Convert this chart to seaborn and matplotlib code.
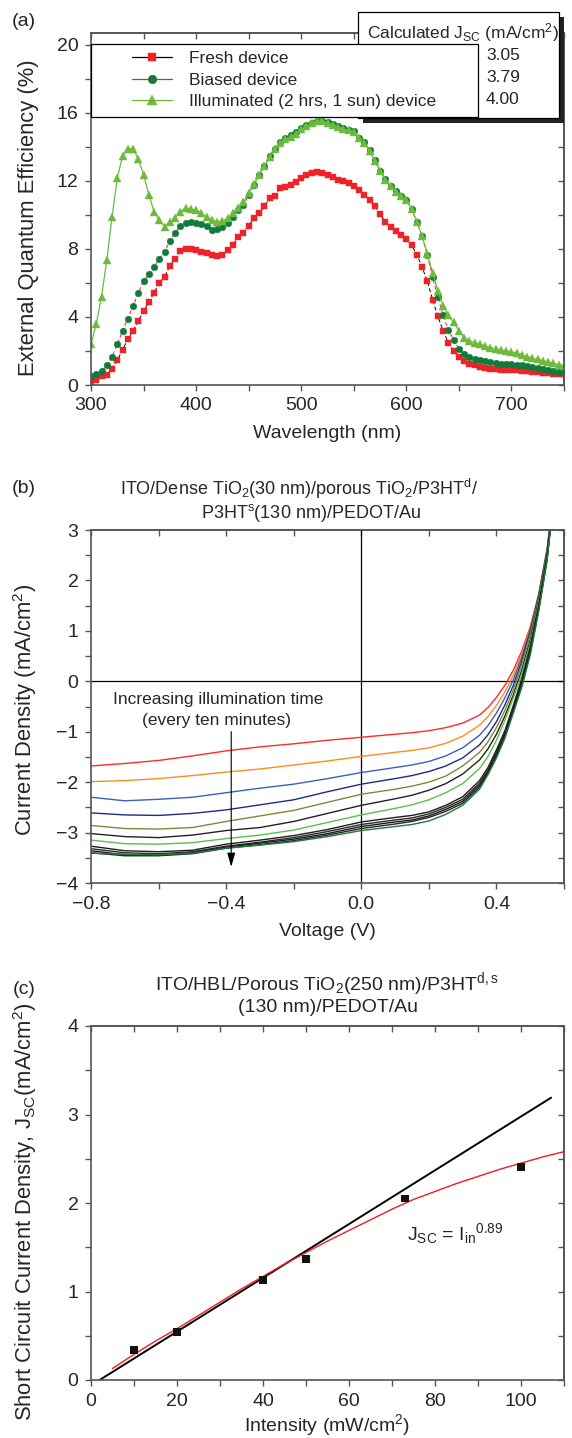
import matplotlib
matplotlib.use("Agg")
import pandas as pd
import matplotlib.pyplot as plt
import seaborn as sns
from matplotlib.patches import Rectangle
from matplotlib.ticker import MultipleLocator, FuncFormatter

W, H = 572, 1438

# ---------------- (a) EQE spectra ----------------
wavelength = list(range(300, 751, 5))
eqe_fresh = [0.16, 0.32, 0.51, 0.61, 0.95, 1.46, 2.06, 2.69, 3.18, 3.75, 4.33, 4.86, 5.42, 6.0, 6.38,
             7.0, 7.43, 7.87, 7.98, 8.02, 7.92, 7.83, 7.77, 7.63, 7.59, 7.67, 7.92, 8.22, 8.72, 8.95,
             9.37, 9.8, 10.1, 10.5, 11.0, 11.13, 11.58, 11.64, 11.74, 11.94, 12.17, 12.37, 12.47, 12.51, 12.47,
             12.37, 12.21, 12.07, 11.98, 11.88, 11.68, 11.48, 11.15, 10.89, 10.5, 10.04, 9.6, 9.3, 9.05, 8.85,
             8.58, 8.22, 7.67, 6.94, 6.09, 5.02, 4.03, 3.18, 2.49, 2.0, 1.66, 1.4, 1.26, 1.15, 1.07,
             1.0, 0.97, 0.95, 0.9, 0.9, 0.89, 0.87, 0.85, 0.81, 0.77, 0.75, 0.71, 0.69, 0.67, 0.65, 0.63]
eqe_biased = [0.51, 0.65, 0.81, 1.15, 1.66, 2.39, 3.18, 3.91, 4.66, 5.42, 6.09, 6.54, 6.94, 7.43, 7.83,
              8.46, 8.95, 9.37, 9.55, 9.6, 9.55, 9.45, 9.37, 9.11, 9.15, 9.31, 9.5, 9.9, 10.3, 10.6,
              11.15, 11.75, 12.35, 12.9, 13.45, 13.9, 14.3, 14.5, 14.68, 14.85, 15.1, 15.3, 15.42, 15.55, 15.55,
              15.45, 15.35, 15.22, 15.1, 15.0, 14.92, 14.55, 14.3, 13.8, 13.25, 12.6, 12.1, 11.7, 11.38, 11.12,
              10.9, 10.36, 9.6, 8.75, 7.63, 6.34, 5.16, 4.1, 3.24, 2.65, 2.13, 1.8, 1.66, 1.54, 1.46,
              1.4, 1.34, 1.3, 1.26, 1.26, 1.25, 1.2, 1.17, 1.1, 1.07, 1.0, 0.95, 0.9, 0.85, 0.79, 0.75]
eqe_illum = [2.39, 3.58, 5.2, 7.33, 9.88, 12.17, 13.46, 13.9, 13.9, 13.3, 12.37, 11.2, 10.2, 9.7, 9.3,
             9.56, 9.84, 10.2, 10.4, 10.34, 10.3, 10.1, 9.9, 9.7, 9.6, 9.64, 9.8, 10.1, 10.4, 10.75,
             11.3, 11.8, 12.37, 12.87, 13.4, 13.85, 14.25, 14.45, 14.6, 14.78, 15.04, 15.24, 15.38, 15.53, 15.53,
             15.43, 15.3, 15.18, 15.04, 14.98, 14.9, 14.5, 14.25, 13.75, 13.2, 12.57, 12.07, 11.68, 11.34, 11.09,
             10.9, 10.36, 9.6, 8.75, 7.73, 6.58, 5.55, 4.66, 4.1, 3.68, 3.18, 2.79, 2.59, 2.49, 2.39,
             2.29, 2.2, 2.12, 2.05, 2.0, 1.95, 1.88, 1.76, 1.66, 1.56, 1.5, 1.42, 1.36, 1.27, 1.2, 1.14]
eqe_labels = ["Fresh device", "Biased device", "Illuminated (2 hrs, 1 sun) device"]
jsc_values = ["3.05", "3.79", "4.00"]

# ---------------- (b) J-V curves ----------------
voltage = [-0.8, -0.7, -0.6, -0.5, -0.4, -0.3, -0.2, -0.1, 0.0, 0.1, 0.15, 0.2, 0.25, 0.3, 0.35,
           0.375, 0.4, 0.425, 0.45, 0.475, 0.5, 0.525, 0.55, 0.575]
jv_red = [-1.68, -1.63, -1.57, -1.48, -1.38, -1.30, -1.24, -1.17, -1.11, -1.05, -1.02, -0.98, -0.92, -0.83,
          -0.67, -0.52, -0.32, -0.08, 0.22, 0.60, 1.08, 1.70, 2.55, 3.9]
jv_orange = [-1.99, -1.97, -1.93, -1.87, -1.80, -1.74, -1.66, -1.58, -1.49, -1.41, -1.37, -1.32, -1.23, -1.09,
             -0.87, -0.70, -0.48, -0.21, 0.12, 0.53, 1.06, 1.73, 2.63, 4.0]
jv_blue = [-2.30, -2.37, -2.34, -2.30, -2.21, -2.12, -2.04, -1.93, -1.81, -1.71, -1.66, -1.59, -1.48, -1.32,
           -1.07, -0.88, -0.63, -0.33, 0.03, 0.47, 1.02, 1.72, 2.62, 4.0]
jv_navy = [-2.61, -2.65, -2.66, -2.62, -2.55, -2.45, -2.35, -2.19, -2.04, -1.93, -1.87, -1.79, -1.68, -1.52,
           -1.26, -1.06, -0.80, -0.47, -0.08, 0.40, 0.98, 1.69, 2.58, 4.0]
jv_olive = [-2.86, -2.92, -2.93, -2.90, -2.78, -2.67, -2.56, -2.40, -2.24, -2.14, -2.08, -2.00, -1.88, -1.68,
            -1.41, -1.20, -0.92, -0.58, -0.17, 0.33, 0.93, 1.66, 2.56, 4.0]
jv_black1 = [-3.02, -3.08, -3.10, -3.05, -2.96, -2.90, -2.78, -2.62, -2.46, -2.33, -2.26, -2.16, -2.03, -1.84,
             -1.56, -1.34, -1.05, -0.69, -0.27, 0.22, 0.82, 1.60, 2.52, 4.0]
jv_lgreen = [-3.15, -3.22, -3.23, -3.20, -3.12, -3.05, -2.95, -2.80, -2.65, -2.52, -2.45, -2.35, -2.21, -2.03,
             -1.73, -1.49, -1.17, -0.77, -0.33, 0.15, 0.75, 1.55, 2.50, 4.0]
jv_black2 = [-3.27, -3.36, -3.38, -3.35, -3.23, -3.15, -3.06, -2.94, -2.79, -2.70, -2.66, -2.59, -2.46, -2.29,
             -1.97, -1.71, -1.36, -0.98, -0.48, 0.05, 0.68, 1.50, 2.48, 4.0]
jv_black3 = [-3.32, -3.40, -3.42, -3.38, -3.27, -3.19, -3.10, -2.98, -2.84, -2.75, -2.71, -2.63, -2.50, -2.34,
             -2.02, -1.76, -1.41, -1.02, -0.52, 0.0, 0.64, 1.47, 2.46, 4.0]
jv_black4 = [-3.36, -3.44, -3.45, -3.40, -3.29, -3.21, -3.13, -3.02, -2.88, -2.79, -2.75, -2.67, -2.54, -2.38,
             -2.06, -1.80, -1.45, -1.06, -0.56, -0.05, 0.60, 1.44, 2.44, 4.0]
jv_black5 = [-3.40, -3.46, -3.46, -3.42, -3.31, -3.24, -3.16, -3.05, -2.92, -2.83, -2.78, -2.70, -2.58, -2.42,
             -2.10, -1.83, -1.49, -1.10, -0.60, -0.09, 0.56, 1.41, 2.42, 4.0]
jv_dgreen = [-3.41, -3.43, -3.44, -3.41, -3.31, -3.25, -3.18, -3.08, -2.96, -2.88, -2.84, -2.77, -2.64, -2.46,
             -2.14, -1.85, -1.52, -1.13, -0.63, -0.12, 0.52, 1.38, 2.40, 4.0]
jv_colors = ["#ff2a2a", "#ff8c1a", "#3b5fc0", "#1f2a80", "#85853a", "#222222", "#5cc04a",
             "#1e1e1e", "#2a2a2a", "#1a1a1a", "#262626", "#1b7a3a"]

# ---------------- (c) Jsc vs intensity ----------------
intensity = [10, 20, 40, 50, 73, 100]
jsc_meas = [0.34, 0.54, 1.13, 1.37, 2.05, 2.41]
lin_x = [2, 107]
lin_y = [0.0, 3.19]
pow_x = [5, 10, 15, 20, 25, 30, 35, 40, 45, 50, 55, 60, 65, 70, 75, 80, 85, 90, 95, 100, 105, 110]
pow_y = [0.13, 0.29, 0.44, 0.58, 0.73, 0.88, 1.03, 1.17, 1.31, 1.44, 1.57, 1.69, 1.81, 1.93, 2.04,
         2.13, 2.22, 2.30, 2.38, 2.45, 2.52, 2.58]

SPINE = "#555555"
FS = 14
FS_Y = 15.8

sns.set_theme(style="ticks")
plt.rcParams["font.family"] = ["Liberation Sans", "DejaVu Sans"]
plt.rcParams["mathtext.fontset"] = "custom"
plt.rcParams["mathtext.rm"] = "Liberation Sans"
plt.rcParams["mathtext.it"] = "Liberation Sans:italic"
plt.rcParams["mathtext.bf"] = "Liberation Sans:bold"


def fx(px):
    return px / W


def fy(py):
    return 1 - py / H


def style_axes(ax, xmaj, xmin, ymaj, ymin):
    ax.xaxis.set_major_locator(MultipleLocator(xmaj))
    ax.xaxis.set_minor_locator(MultipleLocator(xmin))
    ax.yaxis.set_major_locator(MultipleLocator(ymaj))
    ax.yaxis.set_minor_locator(MultipleLocator(ymin))
    ax.tick_params(which="both", direction="out", color=SPINE, width=1.0, length=4.5,
                   labelsize=FS, pad=4.5, top=False, right=False)
    for s in ax.spines.values():
        s.set_visible(True)
        s.set_color(SPINE)
        s.set_linewidth(1.2)
    top = ax.secondary_xaxis("top")
    top.xaxis.set_major_locator(MultipleLocator(xmaj))
    top.xaxis.set_minor_locator(MultipleLocator(xmin))
    top.tick_params(which="both", direction="in", length=4.5, color=SPINE, width=1.0, labeltop=False)
    right = ax.secondary_yaxis("right")
    right.yaxis.set_major_locator(MultipleLocator(ymaj))
    right.yaxis.set_minor_locator(MultipleLocator(ymin))
    right.tick_params(which="both", direction="in", length=4.5, color=SPINE, width=1.0, labelright=False)
    for sec in (top, right):
        for s in sec.spines.values():
            s.set_color(SPINE)
            s.set_linewidth(1.2)


def place_axes(top_px, bottom_px):
    return fig.add_axes([fx(91), fy(bottom_px), fx(564) - fx(91), (bottom_px - top_px) / H])


fig = plt.figure(figsize=(W / 100, H / 100), dpi=100)

# ======================= (a) =======================
axa = place_axes(33, 385)
sns.lineplot(x=wavelength, y=eqe_fresh, ax=axa, color="black", linestyle=(0, (4, 2.5)), linewidth=0.7,
             marker="s", markersize=4.4, markerfacecolor="#ee2229", markeredgecolor="#ee2229",
             markeredgewidth=0.3, label=eqe_labels[0])
sns.lineplot(x=wavelength, y=eqe_biased, ax=axa, color="#ee2229", linestyle=(0, (4, 2.5)), linewidth=0.7,
             marker="o", markersize=4.8, markerfacecolor="#0f7c3c", markeredgecolor="#0f7c3c",
             markeredgewidth=0.3, label=eqe_labels[1])
sns.lineplot(x=wavelength, y=eqe_illum, ax=axa, color="#6cbb3c", linewidth=0.9,
             marker="^", markersize=5.6, markerfacecolor="#6cbb3c", markeredgecolor="#6cbb3c",
             markeredgewidth=0.3, label=eqe_labels[2])
axa.set_xlim(300, 750)
axa.set_ylim(0, 20.7)
style_axes(axa, 100, 50, 4, 2)
axa.set_xlabel("Wavelength (nm)", fontsize=FS)
axa.set_ylabel("External Quantum Efficiency (%)", fontsize=FS_Y)

leg = axa.legend(loc="upper left", bbox_to_anchor=(fx(132), fy(51)), bbox_transform=fig.transFigure,
                 borderaxespad=0, borderpad=0, fontsize=12.5, frameon=False, markerscale=1.3,
                 handlelength=2.3, handletextpad=1.0, labelspacing=0.37, numpoints=1)
for ln in leg.get_lines():
    ln.set_linestyle("-")
    ln.set_linewidth(0.9)
leg.set_zorder(8)

# legend frame, and Jsc box with shadow behind it
axa.add_patch(Rectangle((fx(91), fy(117)), fx(478) - fx(91), (117 - 44) / H,
                        transform=fig.transFigure, facecolor="white", edgecolor="black",
                        linewidth=0.9, clip_on=False, zorder=7.5))
axa.add_patch(Rectangle((fx(363), fy(123)), fx(564) - fx(363), (123 - 17) / H,
                        transform=fig.transFigure, facecolor="#222222", edgecolor="none",
                        clip_on=False, zorder=6))
axa.add_patch(Rectangle((fx(358), fy(118)), fx(559) - fx(358), (118 - 12) / H,
                        transform=fig.transFigure, facecolor="white", edgecolor="black",
                        linewidth=0.9, clip_on=False, zorder=6.5))
axa.text(fx(463), fy(33), r"Calculated J$_\mathregular{SC}$ (mA/cm$^\mathregular{2}$)",
         transform=fig.transFigure, ha="center", va="center", fontsize=12.5, zorder=7)
for v, yy in zip(jsc_values, [56, 78, 100]):
    axa.text(fx(486), fy(yy), v, transform=fig.transFigure, ha="left", va="center",
             fontsize=12.5, zorder=7)

# ======================= (b) =======================
axb = place_axes(530, 883)
jv_all = [jv_red, jv_orange, jv_blue, jv_navy, jv_olive, jv_black1, jv_lgreen,
          jv_black2, jv_black3, jv_black4, jv_black5, jv_dgreen]
jv_df = pd.concat([pd.DataFrame({"V": voltage, "J": c, "curve": i}) for i, c in enumerate(jv_all)])
sns.lineplot(data=jv_df, x="V", y="J", hue="curve", palette=jv_colors, ax=axb,
             linewidth=1.0, legend=False, sort=False)
axb.axhline(0, color="black", linewidth=0.9, zorder=1)
axb.axvline(0, color="black", linewidth=0.9, zorder=1)
axb.set_xlim(-0.8, 0.6)
axb.set_ylim(-4, 3)
style_axes(axb, 0.4, 0.2, 1, 0.5)
axb.xaxis.set_major_formatter(FuncFormatter(lambda v, p: f"{v:.1f}".replace("-", "\u2212")))
axb.set_xlabel("Voltage (V)", fontsize=FS)
axb.set_ylabel("Current Density (mA/cm$^\\mathregular{2}$)", fontsize=FS_Y)
axb.annotate("", xy=(-0.385, -3.68), xytext=(-0.385, -1.0),
             arrowprops=dict(arrowstyle="-|>,head_length=0.7,head_width=0.2", color="black", lw=0.8,
                             mutation_scale=12, shrinkA=0, shrinkB=0))
axb.text(-0.423, -0.36, "Increasing illumination time", ha="center", va="center", fontsize=12.5)
axb.text(-0.430, -0.77, "(every ten minutes)", ha="center", va="center", fontsize=12.5)

# ======================= (c) =======================
axc = place_axes(1026, 1380)
sns.lineplot(x=lin_x, y=lin_y, ax=axc, color="black", linewidth=1.4)
sns.lineplot(x=pow_x, y=pow_y, ax=axc, color="#ee1c24", linewidth=1.0)
sns.scatterplot(x=intensity, y=jsc_meas, ax=axc, marker="s", s=30, color="#111111",
                edgecolor="none", zorder=5)
axc.set_xlim(0, 110)
axc.set_ylim(0, 4)
style_axes(axc, 20, 10, 1, 0.5)
axc.set_xlabel("Intensity (mW/cm$^\\mathregular{2}$)", fontsize=FS)
axc.set_ylabel("Short Circuit Current Density, J$_\\mathregular{SC}$(mA/cm$^\\mathregular{2}$)",
               fontsize=FS_Y)
axc.text(73.5, 1.66, "J$_\\mathregular{SC}$ = I$_\\mathregular{in}$$^\\mathregular{0.89}$",
         ha="left", va="center", fontsize=14)

# label placement
for ax, yc in ((axa, 0.475), (axb, 0.49), (axc, 0.475)):
    ax.yaxis.set_label_coords((39 - 91) / 473, yc)
axa.xaxis.set_label_coords(0.5, -40 / 352)
axb.xaxis.set_label_coords(0.5, -40 / 353)
axc.xaxis.set_label_coords(0.5, -32 / 354)

# panel tags and titles
fig.text(fx(24), fy(22), "(a)", ha="center", va="center", fontsize=FS)
fig.text(fx(24), fy(489), "(b)", ha="center", va="center", fontsize=FS)
fig.text(fx(24), fy(990), "(c)", ha="center", va="center", fontsize=FS)
fig.text(fx(299), fy(489),
         "ITO/Dense TiO$_\\mathregular{2}$(30 nm)/porous TiO$_\\mathregular{2}$/P3HT$^\\mathregular{d}$/",
         ha="center", va="center", fontsize=13)
fig.text(fx(311), fy(513), "P3HT$^\\mathregular{s}$(130 nm)/PEDOT/Au",
         ha="center", va="center", fontsize=13)
fig.text(fx(327), fy(984),
         "ITO/HBL/Porous TiO$_\\mathregular{2}$(250 nm)/P3HT$^\\mathregular{d,s}$",
         ha="center", va="center", fontsize=FS)
fig.text(fx(328), fy(1008), "(130 nm)/PEDOT/Au", ha="center", va="center", fontsize=FS)

fig.savefig("out.png", dpi=100)
